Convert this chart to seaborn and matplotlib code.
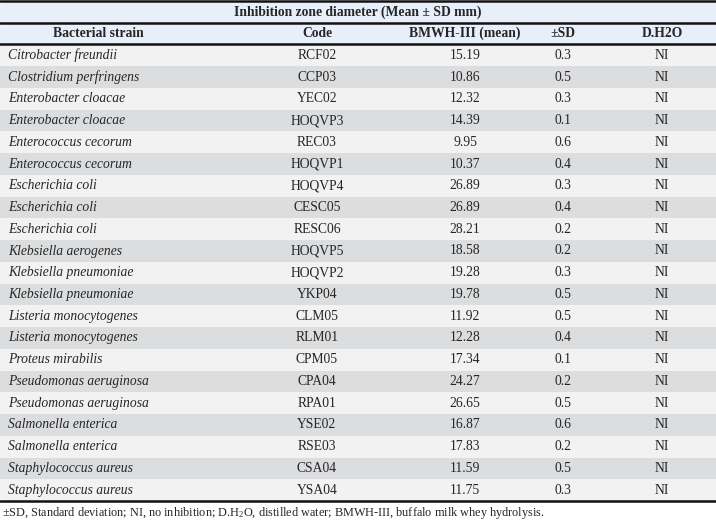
import matplotlib
matplotlib.use('Agg')
import numpy as np
import pandas as pd
import matplotlib.pyplot as plt
import seaborn as sns
from matplotlib.colors import ListedColormap

# Table data
strains = ['Citrobacter freundii', 'Clostridium perfringens', 'Enterobacter cloacae',
           'Enterobacter cloacae', 'Enterococcus cecorum', 'Enterococcus cecorum',
           'Escherichia coli', 'Escherichia coli', 'Escherichia coli',
           'Klebsiella aerogenes', 'Klebsiella pneumoniae', 'Klebsiella pneumoniae',
           'Listeria monocytogenes', 'Listeria monocytogenes', 'Proteus mirabilis',
           'Pseudomonas aeruginosa', 'Pseudomonas aeruginosa', 'Salmonella enterica',
           'Salmonella enterica', 'Staphylococcus aureus', 'Staphylococcus aureus']
codes = ['RCF02', 'CCP03', 'YEC02', 'HOQVP3', 'REC03', 'HOQVP1', 'HOQVP4', 'CESC05',
         'RESC06', 'HOQVP5', 'HOQVP2', 'YKP04', 'CLM05', 'RLM01', 'CPM05', 'CPA04',
         'RPA01', 'YSE02', 'RSE03', 'CSA04', 'YSA04']
means = ['15.19', '10.86', '12.32', '14.39', '9.95', '10.37', '26.89', '26.89', '28.21',
         '18.58', '19.28', '19.78', '11.92', '12.28', '17.34', '24.27', '26.65', '16.87',
         '17.83', '11.59', '11.75']
sds = ['0.3', '0.5', '0.3', '0.1', '0.6', '0.4', '0.3', '0.4', '0.2', '0.2', '0.3', '0.5',
       '0.5', '0.4', '0.1', '0.2', '0.5', '0.6', '0.2', '0.5', '0.3']
dh2o = ['NI'] * 21

columns = ['Bacterial strain', 'Code', 'BMWH-III (mean)', '\u00b1SD', 'D.H2O']
title = 'Inhibition zone diameter (Mean \u00b1 SD mm)'
note = ('\u00b1SD, Standard deviation; NI, no inhibition; D.H$_2$O, distilled water; '
        'BMWH-III, buffalo milk whey hydrolysis.')

df = pd.DataFrame({'strain': strains, 'code': codes, 'mean': means, 'sd': sds, 'dh2o': dh2o})

sns.set_theme(style='white')
plt.rcParams['font.family'] = ['Liberation Serif', 'DejaVu Serif']
plt.rcParams['mathtext.fontset'] = 'custom'
plt.rcParams['mathtext.rm'] = 'Liberation Serif'
plt.rcParams['mathtext.it'] = 'Liberation Serif:italic'

W, H = 716, 523
fig = plt.figure(figsize=(W / 100, H / 100), dpi=100)
top_px, bot_px = 1, 501
ax = fig.add_axes([0, (H - bot_px) / H, 1, (bot_px - top_px) / H])

# row shading: 0 = header blue, 1 = light row, 2 = dark row
shade = np.array([0, 0] + [1 if i % 2 == 0 else 2 for i in range(len(df))]).reshape(-1, 1)
cmap = ListedColormap(['#e7f0fa', '#f2f2f2', '#dcdddf'])
sns.heatmap(shade, ax=ax, cmap=cmap, vmin=-0.5, vmax=2.5, cbar=False,
            xticklabels=False, yticklabels=False)
ax.set_xlim(0, 1)

col_x = [98, 317, 465, 563, 662]
fs = 9.8
ax.text(358 / W, 0.5, title, ha='center', va='center', fontsize=fs, fontweight='bold')
for x, c in zip(col_x, columns):
    ax.text(x / W, 1.5, c, ha='center', va='center', fontsize=fs, fontweight='bold')

for i, row in df.iterrows():
    y = i + 2.5
    ax.text(8 / W, y, row['strain'], ha='left', va='center', fontsize=fs, style='italic')
    ax.text(col_x[1] / W, y, row['code'], ha='center', va='center', fontsize=fs)
    ax.text(col_x[2] / W, y, row['mean'], ha='center', va='center', fontsize=fs)
    ax.text(col_x[3] / W, y, row['sd'], ha='center', va='center', fontsize=fs)
    ax.text(col_x[4] / W, y, row['dh2o'], ha='center', va='center', fontsize=fs)

n = len(df) + 2
for yl in [0, 1, 2, n]:
    ax.axhline(yl, color='#111111', linewidth=1.8, clip_on=False)
ax.set_ylim(n, 0)
for s in ax.spines.values():
    s.set_visible(False)

fig.text(2 / W, 1 - 513 / H, note, ha='left', va='center', fontsize=8.8)

fig.savefig('out.png', dpi=100)
